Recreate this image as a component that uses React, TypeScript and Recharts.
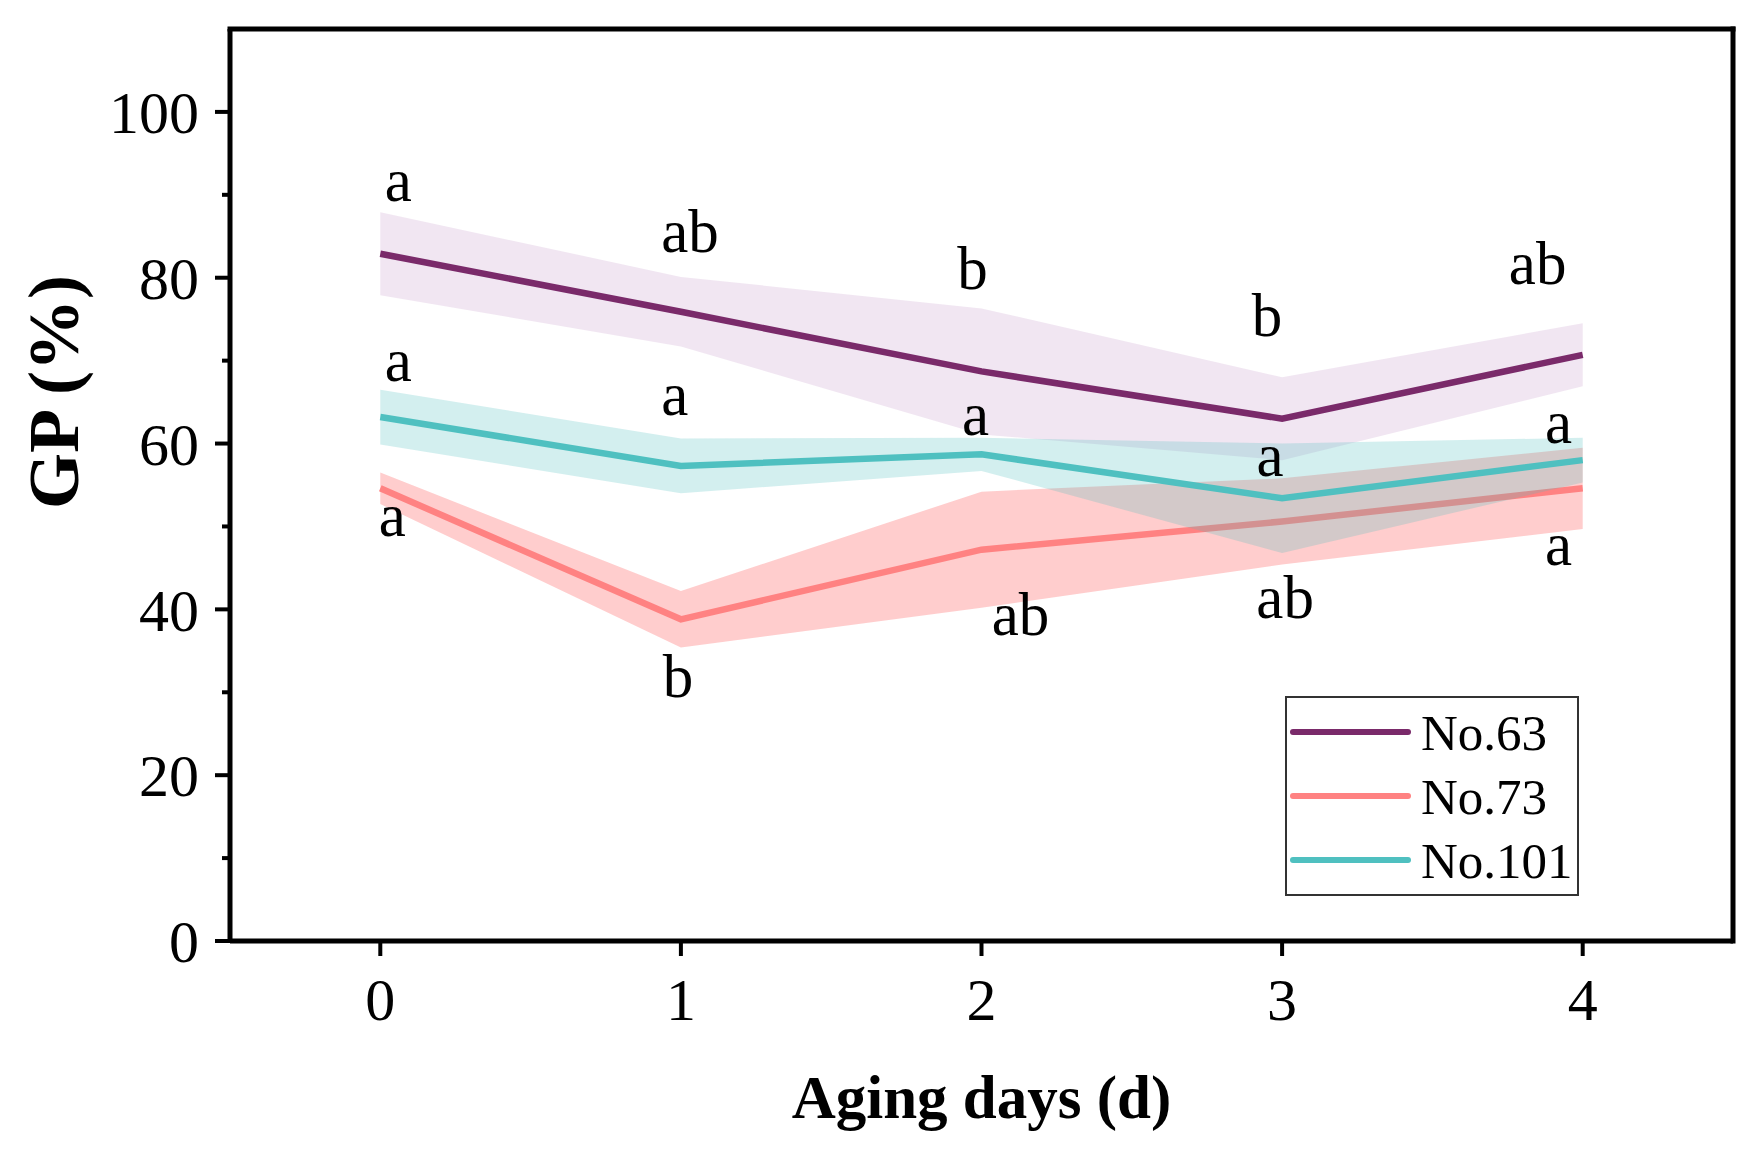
import React from 'react';
import { ComposedChart, Area, Line, XAxis, YAxis, Scatter, ReferenceLine, Legend, Label } from 'recharts';

// ---- data ----
const days = [0, 1, 2, 3, 4];
const seriesNames = ['No.63', 'No.73', 'No.101'];

const gp63 = [82.9, 75.9, 68.7, 63.0, 70.7];
const sd63 = [5.0, 4.2, 7.6, 5.0, 3.8];
const gp73 = [54.6, 38.8, 47.2, 50.6, 54.6];
const sd73 = [1.9, 3.4, 7.0, 5.2, 4.9];
const gp101 = [63.2, 57.3, 58.7, 53.4, 58.0];
const sd101 = [3.3, 3.3, 2.0, 6.6, 2.7];

const xTicks = [0, 1, 2, 3, 4];
const yTicks = [0, 20, 40, 60, 80, 100];
const yMinorTicks = [10, 30, 50, 70, 90];

// significance letters (text, anchor day, anchor GP value)
const letters63 = ['a', 'ab', 'b', 'b', 'ab'];
const letterDay63 = [0.06, 1.03, 1.97, 2.95, 3.85];
const letterGP63 = [89.3, 83.1, 78.6, 73.0, 79.3];
const letters73 = ['a', 'b', 'ab', 'ab', 'a'];
const letterDay73 = [0.04, 0.99, 2.13, 3.01, 3.92];
const letterGP73 = [48.8, 29.4, 36.9, 39.0, 45.4];
const letters101 = ['a', 'a', 'a', 'a', 'a'];
const letterDay101 = [0.06, 0.98, 1.98, 2.96, 3.92];
const letterGP101 = [67.5, 63.5, 61.0, 56.1, 60.1];

// ---- styles ----
const FONT = '"Liberation Serif", "Times New Roman", serif';
const C63 = '#7A2A6A';
const C73 = '#FF8282';
const C101 = '#4FC0C0';
const colors = [C63, C73, C101];
const Y_TICK_SIZE = 15;
const Y_TICK_MARGIN = 16;

const rows = days.map((d, i) => ({
  x: d,
  m63: gp63[i],
  r63: [gp63[i] - sd63[i], gp63[i] + sd63[i]],
  m73: gp73[i],
  r73: [gp73[i] - sd73[i], gp73[i] + sd73[i]],
  m101: gp101[i],
  r101: [gp101[i] - sd101[i], gp101[i] + sd101[i]],
}));

const allYTicks = [...yTicks, ...yMinorTicks].sort((a, b) => a - b);

const mkLetters = (t: string[], xs: number[], ys: number[]) =>
  t.map((s, i) => ({ x: xs[i], y: ys[i], t: s }));
const lab63 = mkLetters(letters63, letterDay63, letterGP63);
const lab73 = mkLetters(letters73, letterDay73, letterGP73);
const lab101 = mkLetters(letters101, letterDay101, letterGP101);

const LetterShape = (props: any) => {
  const { cx, cy, payload } = props;
  if (cx == null || cy == null) return null;
  return (
    <text x={cx} y={cy} textAnchor="middle" fontFamily={FONT} fontSize={61} fill="#000">
      {payload.t}
    </text>
  );
};

const YTick = (props: any) => {
  const { x, y, payload } = props;
  const axisX = x + Y_TICK_SIZE + Y_TICK_MARGIN;
  const major = yTicks.includes(payload.value);
  return (
    <g>
      <line x1={axisX - (major ? Y_TICK_SIZE : 8)} x2={axisX} y1={y} y2={y} stroke="#000" strokeWidth={4} />
      {major && (
        <text x={x} y={y} dy="0.355em" textAnchor="end" fontFamily={FONT} fontSize={60} fill="#000">
          {payload.value}
        </text>
      )}
    </g>
  );
};

const LegendBox = () => (
  <svg width={294} height={200} style={{ display: 'block' }}>
    <rect x={1} y={1} width={292} height={198} fill="#fff" stroke="#333" strokeWidth={2} />
    {seriesNames.map((n, i) => (
      <g key={n}>
        <line x1={8} x2={123} y1={36 + i * 64} y2={36 + i * 64} stroke={colors[i]} strokeWidth={6} strokeLinecap="round" />
        <text x={136} y={54 + i * 64} fontFamily={FONT} fontSize={51} fill="#000">
          {n}
        </text>
      </g>
    ))}
  </svg>
);

export default function App() {
  const tickStyle = { fontSize: 60, fontFamily: FONT, fill: '#000' };
  return (
    <div style={{ position: 'absolute', left: 0, top: 0, width: 1761, height: 1157, background: '#fff' }}>
      <ComposedChart
        width={1761}
        height={1157}
        data={rows}
        margin={{ top: 29, right: 28, left: 80, bottom: 116 }}
      >
        <XAxis
          dataKey="x"
          type="number"
          domain={[-0.5, 4.5]}
          ticks={xTicks}
          interval={0}
          allowDataOverflow
          height={100}
          tick={tickStyle}
          tickSize={15}
          tickMargin={21}
          axisLine={{ stroke: '#000', strokeWidth: 5 }}
          tickLine={{ stroke: '#000', strokeWidth: 4 }}
        >
          <Label
            content={(p: any) => {
              const vb = p.viewBox || { x: 230, width: 1503 };
              return (
                <text x={vb.x + vb.width / 2} y={1118} textAnchor="middle" fontFamily={FONT} fontWeight="bold" fontSize={61} fill="#000">
                  Aging days (d)
                </text>
              );
            }}
          />
        </XAxis>
        <YAxis
          type="number"
          domain={[0, 110]}
          ticks={allYTicks}
          interval={0}
          allowDataOverflow
          width={150}
          tick={YTick}
          tickSize={Y_TICK_SIZE}
          tickMargin={Y_TICK_MARGIN}
          axisLine={{ stroke: '#000', strokeWidth: 5 }}
          tickLine={false}
        >
          <Label
            content={() => (
              <text
                x={78}
                y={392}
                transform="rotate(-90, 78, 392)"
                textAnchor="middle"
                fontFamily={FONT}
                fontWeight="bold"
                fontSize={72}
                fill="#000"
              >
                GP (%)
              </text>
            )}
          />
        </YAxis>
        <ReferenceLine y={110} stroke="#000" strokeWidth={5} strokeLinecap="square" />
        <ReferenceLine x={4.5} stroke="#000" strokeWidth={5} strokeLinecap="square" />

        <Area dataKey="r63" type="linear" stroke="none" fill="#C99ACC" fillOpacity={0.25} isAnimationActive={false} legendType="none" zIndex={101} />
        <Line dataKey="m63" name="No.63" type="linear" stroke={C63} strokeWidth={6.5} dot={false} activeDot={false} isAnimationActive={false} zIndex={102} />
        <Area dataKey="r73" type="linear" stroke="none" fill={C73} fillOpacity={0.4} isAnimationActive={false} legendType="none" zIndex={103} />
        <Line dataKey="m73" name="No.73" type="linear" stroke={C73} strokeWidth={6.5} dot={false} activeDot={false} isAnimationActive={false} zIndex={104} />
        <Area dataKey="r101" type="linear" stroke="none" fill={C101} fillOpacity={0.25} isAnimationActive={false} legendType="none" zIndex={105} />
        <Line dataKey="m101" name="No.101" type="linear" stroke={C101} strokeWidth={6.5} dot={false} activeDot={false} isAnimationActive={false} zIndex={106} />

        <Scatter data={lab63} dataKey="y" shape={LetterShape} isAnimationActive={false} legendType="none" />
        <Scatter data={lab73} dataKey="y" shape={LetterShape} isAnimationActive={false} legendType="none" />
        <Scatter data={lab101} dataKey="y" shape={LetterShape} isAnimationActive={false} legendType="none" />

        <Legend
          layout="vertical"
          align="center"
          verticalAlign="middle"
          wrapperStyle={{ left: 1285, top: 696, width: 294, height: 200 }}
          content={() => <LegendBox />}
        />
      </ComposedChart>
    </div>
  );
}
